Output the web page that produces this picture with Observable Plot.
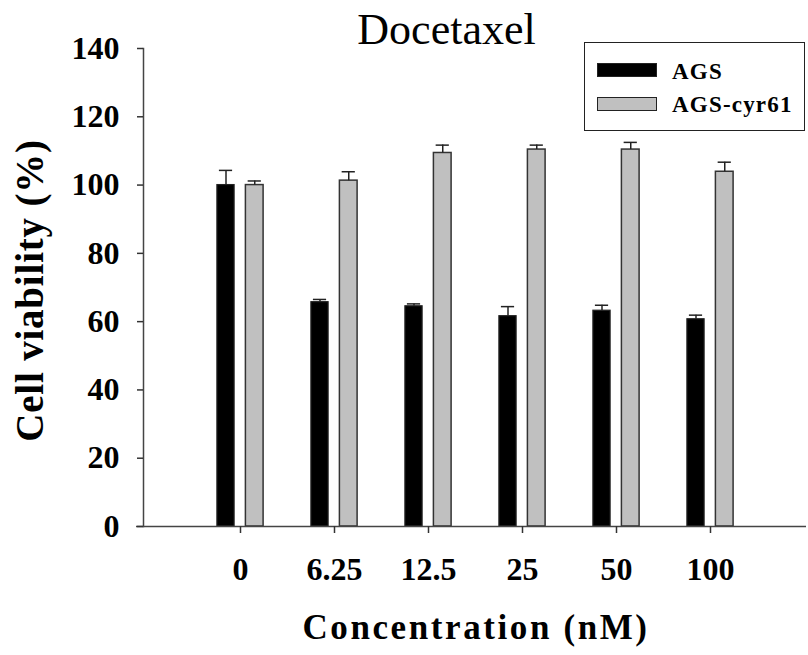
<!DOCTYPE html>
<html>
<head>
<meta charset="utf-8">
<script src="https://cdn.jsdelivr.net/npm/d3@7"></script>
<script src="https://cdn.jsdelivr.net/npm/@observablehq/plot@0.6"></script>
<style>
  body { margin: 0; background: white; }
  #wrap { position: relative; width: 808px; height: 655px; font-family: "Liberation Serif", "Times New Roman", serif; }
  #legend { position: absolute; left: 584px; top: 42px; width: 219px; height: 87px; border: 1.5px solid #222; background: white; }
  .sw { position: absolute; left: 12px; width: 60px; height: 14px; box-sizing: border-box; border: 1.5px solid #222; }
  .lab { position: absolute; left: 87px; font-size: 23px; font-weight: bold; letter-spacing: 1.2px; line-height: 1; color: black; }
</style>
</head>
<body>
<div id="wrap"></div>
<script>
const concs = ["0", "6.25", "12.5", "25", "50", "100"];
const agsMean = [100, 65.7, 64.5, 61.6, 63.2, 60.7];
const agsErr = [4.3, 0.8, 0.7, 2.8, 1.6, 1.2];
const cyrMean = [100, 101.3, 109.4, 110.4, 110.4, 103.9];
const cyrErr = [1.2, 2.6, 2.3, 1.3, 2.1, 2.8];
const yTicks = [0, 20, 40, 60, 80, 100, 120, 140];
const seriesNames = ["AGS", "AGS-cyr61"];
const titleText = "Docetaxel";
const xLabel = "Concentration (nM)";
const yLabel = "Cell viability (%)";

const data = concs.map((c, i) => ({conc: c, ags: agsMean[i], agsTop: agsMean[i] + agsErr[i], cyr: cyrMean[i], cyrTop: cyrMean[i] + cyrErr[i]}));

const serif = "'Liberation Serif', 'Times New Roman', serif";

const chart = Plot.plot({
  width: 808,
  height: 655,
  marginTop: 48,
  marginBottom: 129,
  marginLeft: 143,
  marginRight: 2,
  style: {fontFamily: serif, background: "white", color: "black", overflow: "visible"},
  x: {type: "band", domain: concs, range: [190.6, 759.4], padding: 0},
  y: {domain: [0, 140]},
  marks: [
    Plot.barY(data, {x: "conc", y: "ags", fill: "black", stroke: "#222", strokeWidth: 1.2, insetLeft: 23.9, insetRight: 52.9}),
    Plot.barY(data, {x: "conc", y: "cyr", fill: "#c0c0c0", stroke: "#333", strokeWidth: 1.5, insetLeft: 52.4, insetRight: 23.9}),
    Plot.ruleX(data, {x: "conc", y1: "ags", y2: "agsTop", dx: -14.5, stroke: "#222", strokeWidth: 1.5}),
    Plot.tickY(data, {x: "conc", y: "agsTop", insetLeft: 25.9, insetRight: 54.9, stroke: "#222", strokeWidth: 1.5}),
    Plot.ruleX(data, {x: "conc", y1: "cyr", y2: "cyrTop", dx: 14.25, stroke: "#222", strokeWidth: 1.5}),
    Plot.tickY(data, {x: "conc", y: "cyrTop", insetLeft: 54.65, insetRight: 26.15, stroke: "#222", strokeWidth: 1.5}),
    Plot.frame({anchor: "left", stroke: "#444", strokeWidth: 1.5}),
    Plot.ruleY([0], {stroke: "#444", strokeWidth: 1.5, insetLeft: -7}),
    Plot.axisY({ticks: yTicks, tickSize: 6, tickPadding: 18, fontSize: 32, fontWeight: "bold", label: null, stroke: "#333", strokeWidth: 1.5, fill: "black"}),
    Plot.axisX({tickSize: 7, tickPadding: 24, fontSize: 32, fontWeight: "bold", label: null, stroke: "#333", strokeWidth: 1.5, fill: "black"}),
    Plot.text([titleText], {text: d => d, frameAnchor: "top", textAnchor: "middle", lineAnchor: "middle", dx: -28.5, dy: -19, fontSize: 44, fontWeight: "normal", fill: "black"}),
    Plot.text([yLabel], {text: d => d, frameAnchor: "left", textAnchor: "middle", lineAnchor: "middle", rotate: -90, dx: -112.5, dy: 3, fontSize: 39, fontWeight: "bold", fill: "black"}),
    Plot.text([xLabel], {text: d => d, frameAnchor: "bottom", textAnchor: "middle", lineAnchor: "middle", dx: 1, dy: 100.8, fontSize: 35, fontWeight: "bold", fill: "black"})
  ]
});

d3.select(chart).selectAll("text").each(function() {
  const t = this.textContent;
  if (t === xLabel) d3.select(this).style("letter-spacing", "2.6px");
  if (t === yLabel) d3.select(this).style("letter-spacing", "0.8px");
});

const wrap = document.getElementById("wrap");
wrap.appendChild(chart);

const legend = document.createElement("div");
legend.id = "legend";
const fills = ["black", "#c0c0c0"];
const swTops = [20, 54];
const labTops = [17, 50];
seriesNames.forEach((name, i) => {
  const sw = document.createElement("div");
  sw.className = "sw";
  sw.style.top = swTops[i] + "px";
  sw.style.background = fills[i];
  legend.appendChild(sw);
  const lab = document.createElement("div");
  lab.className = "lab";
  lab.style.top = labTops[i] + "px";
  lab.textContent = name;
  legend.appendChild(lab);
});
wrap.appendChild(legend);
</script>
</body>
</html>
